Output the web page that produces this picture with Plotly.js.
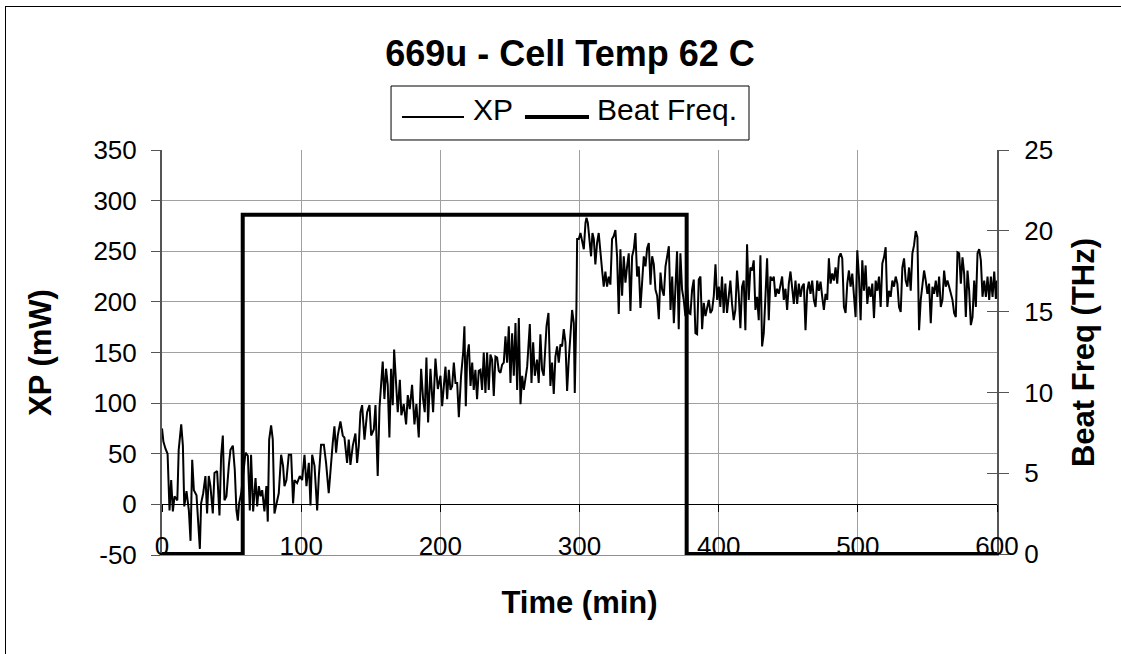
<!DOCTYPE html>
<html>
<head>
<meta charset="utf-8">
<script src="https://cdn.plot.ly/plotly-3.0.1.min.js"></script>
<style>
  html, body { margin:0; padding:0; background:#fff; }
  #wrap { position:relative; width:1121px; height:654px; overflow:hidden; }
  #chart { position:absolute; left:0; top:0; width:1121px; height:654px; }
  #frame { position:absolute; left:5px; top:6px; width:1200px; height:700px;
           border-top:1px solid #000; border-left:1px solid #000; pointer-events:none; }
</style>
</head>
<body>
<div id="wrap"><div id="chart"></div><div id="frame"></div></div>
<script>
// ---- data ----
const chartTitle = '669u - Cell Temp 62 C';
const xTitle = 'Time (min)';
const yTitle = 'XP (mW)';
const y2Title = 'Beat Freq (THz)';
const seriesNames = ['XP', 'Beat Freq.'];

const xpTimeA = [0, 1, 2.5, 4, 5.4, 6.6, 7.8, 9, 11, 12,
  13.8, 15, 16, 17.6, 19.3, 20.5, 21.7, 22.9, 24.8, 26.5,
  27.2, 28.1, 29.6, 31.2, 32.4, 33.6, 34.8, 36.5, 37.7, 39.6,
  41.3, 42.5, 43.7, 44.9, 46.3, 48, 49.2, 50.9, 52.3, 53.5,
  54.5, 55.4, 56.9,
  60, 61.7, 63.1, 64, 65.5, 67.2, 68.4, 69.6, 70.8, 72,
  73.6, 75, 76, 77, 78.4, 79.6, 80.8, 82.3, 83.9, 85.6,
  87, 88, 89.4, 91.1, 92.8, 94.2, 95.2, 97.1, 99, 100.7,
  102.4, 103.8, 105.5, 106.7, 107.9, 109.6, 111.5, 112.7, 114.3, 116.3,
  117.9, 119.8, 121, 122.7, 123.9, 125.1, 126.3, 128.2, 129.9, 131.1,
  133, 134.2, 135.4, 137.1, 139, 140.2, 141.4, 142.6, 143.8, 145.5,
  147.4, 149.1, 150.3, 152.2, 153.4, 155, 156.3, 157.4, 158.6, 159.8,
  161, 162.2, 163.4, 164.6, 165.8, 166.8, 168, 169.4, 170.9, 172,
  173.7, 175.4, 176.6, 178, 179.7, 181.4, 182.8, 184.5, 186.2, 187.6,
  188.8, 190, 191.2, 192.9, 194.8, 196.5, 198.2, 199.6];
const xpValA = [75, 62, 55, 50, -6, 24, -7, 8, 4, 54,
  79, 58, -2, 13, -6, -36, 44, 14, 9, -26,
  -44, 1, 11, 28, -9, 28, 18, -9, 31, 33,
  -11, 48, 68, 4, 8, 38, 54, 58, 34, -6,
  -16, 1, 11,
  51, 48, -6, 49, -7, 26, -2, 18, 8, 14,
  -7, 18, -17, 64, 78, 64, -9, 1, 11, 49,
  38, 18, 24, 49, 49, 1, 24, 21, 28, 24,
  49, 18, 41, -1, 49, 38, -6, 28, 59, 59,
  41, 11, 34, 61, 77, 51, 68, 82, 68, 66,
  41, 64, 39, 58, 70, 41, 58, 91, 98, 64,
  91, 98, 68, 74, 98, 28, 96, 123, 141, 104,
  134, 118, 66, 134, 98, 153, 124, 91, 123, 88,
  99, 79, 108, 94, 118, 79, 99, 66, 134, 104,
  91, 145, 81, 134, 91, 144, 114, 124];

const xpTimeB = [200.1, 201.3, 202.5, 203.7, 204.9, 206.1, 207.3, 208.5, 209.7, 210.9,
  212.1, 213.3, 214.9, 216.4, 217.3, 218.3, 219.3, 220.5, 221.7, 222.9,
  224.0, 225.2, 226.4, 227.6, 228.8, 230.0, 231.2, 232.4, 233.6, 234.8,
  236.0, 237.2, 238.4, 239.6, 240.8, 242.0, 243.2, 244.4, 245.6, 246.8,
  248.0, 249.2, 250.4, 251.6, 252.8, 254.0, 255.2, 256.4, 257.6, 258.8,
  260.0, 261.2, 262.4, 264.3, 265.5, 266.7, 267.9, 269.5, 270.7, 271.9,
  273.1, 274.3, 276.3, 277.7, 279.1, 280.3, 281.5, 282.7, 283.9, 285.1,
  286.3, 287.5, 288.7, 289.9, 291.1, 292.3, 293.5, 294.7, 295.9, 296.6,
  297.8, 298.3, 299.5, 300.7, 301.9, 303.1, 304.3, 305.0, 306.0, 307.1,
  308.3, 309.3, 310.3, 311.4, 312.6, 313.8, 315.0, 316.2, 317.4, 318.6,
  319.8, 321.0, 322.2, 323.4, 324.6, 325.8, 327.0, 328.2, 329.4, 330.6,
  331.8, 333.0, 334.2, 335.4, 336.6, 337.8, 339.0, 340.2, 341.4, 342.6,
  343.8, 345.0, 346.2, 347.4, 348.6, 349.8, 351.0, 352.2, 353.4, 354.6,
  355.8, 357.0, 358.2, 359.4, 360.6, 361.8, 363.0, 364.2, 365.4, 366.6,
  367.8, 369.0, 370.1, 371.3, 372.5, 373.7, 374.9, 376.1, 377.3, 378.5,
  379.7, 380.9, 382.1, 383.3, 384.5, 385.7, 386.9, 388.1, 389.3, 390.5,
  391.7, 392.9, 394.1, 395.3, 396.5, 397.7, 398.9, 400.1];
const xpValB = [127, 97, 117, 136, 104, 133, 113, 117, 140, 120,
  120, 86, 127, 150, 176, 97, 146, 158, 117, 140,
  113, 133, 104, 132, 133, 113, 150, 110, 150, 113,
  148, 143, 107, 146, 145, 132, 130, 138, 140, 166,
  140, 176, 120, 169, 127, 179, 113, 184, 99, 127,
  113, 123, 136, 178, 120, 160, 127, 143, 120, 168,
  133, 127, 176, 189, 117, 140, 109, 146, 156, 140,
  158, 156, 173, 160, 112, 143, 173, 192, 179, 110,
  196, 262, 262, 268, 260, 252, 278, 283, 278, 263,
  245, 268, 262, 237, 258, 268, 245, 232, 215, 230,
  215, 225, 217, 262, 265, 271, 245, 188, 252, 206,
  245, 219, 235, 248, 191, 245, 252, 268, 225, 235,
  194, 219, 245, 235, 253, 258, 217, 245, 237, 212,
  206, 183, 229, 212, 206, 235, 245, 255, 192, 225,
  179, 215, 250, 173, 248, 212, 202, 186, 215, 189,
  188, 212, 222, 169, 168, 222, 225, 173, 199, 186,
  196, 202, 189, 192, 206, 237, 202, 215];

const xpTimeC = [401.2, 402.4, 403.6, 404.8, 406.0, 407.2, 408.4, 409.6, 410.8, 412.0,
  413.2, 414.4, 415.6, 416.8, 418.0, 419.2, 420.4, 421.6, 422.8, 424.0,
  425.2, 426.4, 427.6, 428.8, 430.0, 431.2, 432.4, 433.6, 434.8, 436.0,
  437.2, 438.4, 439.6, 440.8, 442.0, 443.2, 444.4, 445.6, 446.8, 448.0,
  449.2, 450.4, 451.6, 452.8, 454.0, 455.2, 456.4, 457.6, 458.8, 460.0,
  461.2, 462.4, 463.6, 464.8, 466.0, 467.2, 468.4, 469.6, 470.8, 472.0,
  473.2, 474.4, 475.6, 476.8, 478.0, 479.2, 480.4, 481.6, 482.8, 484.0,
  485.2, 486.4, 487.6, 488.8, 490.0, 491.2, 492.4, 493.6, 494.8, 496.0,
  497.2, 498.4, 499.6, 500.8, 502.0, 503.2, 504.4, 505.6, 506.8, 508.0,
  509.2, 510.4, 511.6, 512.8, 514.0, 515.2, 516.4, 517.6, 518.8, 520.0,
  521.2, 522.4, 523.6, 524.8, 526.0, 527.2, 528.4, 529.6, 530.8, 532.0,
  533.2, 534.4, 535.6, 536.8, 538.0, 539.2, 540.4, 541.6, 542.8, 544.0,
  545.2, 546.4, 547.6, 548.8, 550.0, 551.2, 552.4, 553.6, 554.8, 556.0,
  557.2, 558.4, 559.6, 560.8, 562.0, 563.2, 564.4, 565.6, 566.8, 568.0,
  569.2, 570.4, 571.6, 572.8, 574.0, 575.2, 576.4, 577.6, 578.8, 580.0,
  581.2, 582.4, 583.6, 584.8, 586.0, 587.2, 588.4, 589.6, 590.8, 592.0,
  593.2, 594.4, 595.6, 596.8, 598.0, 599.2, 600.0];
const xpValC = [195, 225, 189, 218, 189, 205, 221, 198, 182, 192,
  231, 208, 174, 215, 221, 172, 257, 202, 234, 231,
  241, 192, 205, 182, 246, 156, 169, 205, 243, 182,
  225, 221, 225, 205, 213, 208, 218, 225, 202, 213,
  192, 218, 230, 211, 198, 221, 198, 218, 205, 215,
  218, 172, 211, 220, 208, 221, 202, 195, 221, 211,
  220, 205, 192, 208, 202, 243, 218, 228, 221, 234,
  218, 244, 248, 243, 195, 189, 218, 231, 215, 228,
  208, 185, 251, 225, 182, 241, 211, 236, 198, 215,
  205, 218, 184, 221, 211, 225, 195, 238, 244, 254,
  195, 211, 205, 221, 215, 225, 218, 195, 190, 234,
  243, 221, 215, 234, 211, 248, 256, 270, 264, 172,
  202, 215, 231, 221, 208, 218, 179, 215, 208, 221,
  205, 225, 195, 202, 231, 215, 221, 215, 208, 202,
  189, 185, 249, 248, 218, 244, 228, 185, 231, 211,
  177, 185, 221, 195, 248, 252, 241, 205, 221, 205,
  225, 202, 225, 205, 230, 203, 221];

const beatTime = [0, 58, 377, 600];
const beatFreq = [0, 21, 0, 0];

const xTicks = [0, 100, 200, 300, 400, 500, 600];
const yTicks = [-50, 0, 50, 100, 150, 200, 250, 300, 350];
const y2Ticks = [0, 5, 10, 15, 20, 25];

// ---- build ----
const xpTime = xpTimeA.concat(xpTimeB, xpTimeC);
const xpVal = xpValA.concat(xpValB, xpValC);

const FONT = 'Liberation Sans, Arial, Helvetica, sans-serif';
const Y2RANGE = [-0.06, 25];   // tiny pad so the thick 0-level line is not half clipped

const traces = [
  { type:'scatter', mode:'lines', name:seriesNames[0], x:xpTime, y:xpVal,
    line:{color:'#000', width:2}, xaxis:'x', yaxis:'y', showlegend:false },
  { type:'scatter', mode:'lines', name:seriesNames[1], x:beatTime, y:beatFreq,
    line:{color:'#000', width:4, shape:'hv'}, xaxis:'x', yaxis:'y2', showlegend:false },
  // invisible helper trace carrying the auxiliary tick-only axes
  { type:'scatter', mode:'lines', x:beatTime, y:beatFreq, xaxis:'x2', yaxis:'y3',
    line:{width:0, color:'rgba(0,0,0,0)'}, showlegend:false, hoverinfo:'skip' }
];

// legend drawn in paper coordinates (plot area: x 162..997 px, y 150..555 px)
const LEG = {x0:0.2743, x1:0.7030, y0:1.0247, y1:1.1580, yLine:1.0815, yText:1.0988,
             l1a:0.2874, l1b:0.3617, t1:0.3701, l2a:0.4347, l2b:0.5114, t2:0.5186};

const layout = {
  width:1121, height:654,
  margin:{l:162, r:124, t:150, b:99, pad:0},
  paper_bgcolor:'#fff', plot_bgcolor:'#fff',
  font:{family:FONT, color:'#000', size:26},
  showlegend:false,
  title:{text:'<b>'+chartTitle+'</b>', font:{family:FONT, size:36, color:'#000'},
         x:0.5085, xref:'container', xanchor:'center', y:0.918, yref:'container', yanchor:'middle'},
  shapes:[
    {type:'rect', xref:'paper', yref:'paper', x0:LEG.x0, x1:LEG.x1, y0:LEG.y0, y1:LEG.y1,
     line:{color:'#000', width:1}, fillcolor:'#fff', layer:'above'},
    {type:'line', xref:'paper', yref:'paper', x0:LEG.l1a, x1:LEG.l1b, y0:LEG.yLine, y1:LEG.yLine,
     line:{color:'#000', width:2}, layer:'above'},
    {type:'line', xref:'paper', yref:'paper', x0:LEG.l2a, x1:LEG.l2b, y0:LEG.yLine, y1:LEG.yLine,
     line:{color:'#000', width:4}, layer:'above'}
  ],
  annotations:[
    {xref:'paper', yref:'paper', x:LEG.t1, y:LEG.yText, xanchor:'left', yanchor:'middle',
     text:seriesNames[0], showarrow:false, font:{family:FONT, size:30, color:'#000'}},
    {xref:'paper', yref:'paper', x:LEG.t2, y:LEG.yText, xanchor:'left', yanchor:'middle',
     text:seriesNames[1], showarrow:false, font:{family:FONT, size:30, color:'#000'}}
  ],
  xaxis:{range:[0,600], tickvals:xTicks, ticktext:xTicks.map(String),
         ticks:'', ticklabelposition:'outside', ticklabelstandoff:-32,
         showgrid:true, gridcolor:'#a0a0a0', gridwidth:1,
         showline:true, linecolor:'#909090', linewidth:1, zeroline:false,
         tickfont:{family:FONT, size:26, color:'#000'},
         title:{text:'<b>'+xTitle+'</b>', font:{family:FONT, size:31, color:'#000'}, standoff:31},
         automargin:false, fixedrange:true},
  xaxis2:{range:[0,600], overlaying:'x', anchor:'free', position:0.125, side:'bottom',
          tickvals:xTicks, ticks:'outside', ticklen:7, tickcolor:'#000', tickwidth:1,
          showticklabels:false, showgrid:false, zeroline:false, showline:false, automargin:false},
  yaxis:{range:[-50,350], tickvals:yTicks, ticktext:yTicks.map(String),
         ticks:'outside', ticklen:9, tickcolor:'#555', tickwidth:1, ticklabelstandoff:9,
         showgrid:true, gridcolor:'#a0a0a0', gridwidth:1,
         showline:true, linecolor:'#555', linewidth:2,
         zeroline:true, zerolinecolor:'#000', zerolinewidth:1,
         tickfont:{family:FONT, size:26, color:'#000'},
         title:{text:'<b>'+yTitle+'</b>', font:{family:FONT, size:31, color:'#000'}, standoff:33},
         automargin:false, fixedrange:true},
  yaxis2:{range:Y2RANGE, overlaying:'y', side:'right', anchor:'x',
          tickvals:y2Ticks, ticktext:y2Ticks.map(String),
          ticks:'outside', ticklen:10, tickcolor:'#555', tickwidth:1, ticklabelstandoff:10,
          showgrid:false, zeroline:false, showline:true, linecolor:'#555', linewidth:2,
          tickfont:{family:FONT, size:26, color:'#000'},
          title:{text:'<b>'+y2Title+'</b>', font:{family:FONT, size:31, color:'#000'}, standoff:20},
          automargin:false, fixedrange:true},
  yaxis3:{range:Y2RANGE, overlaying:'y', side:'right', anchor:'x',
          tickvals:y2Ticks, ticks:'inside', ticklen:10, tickcolor:'#555', tickwidth:1,
          showticklabels:false, showgrid:false, zeroline:false, showline:false,
          automargin:false, fixedrange:true}
};

Plotly.newPlot('chart', traces, layout, {staticPlot:true, displayModeBar:false});
</script>
</body>
</html>
